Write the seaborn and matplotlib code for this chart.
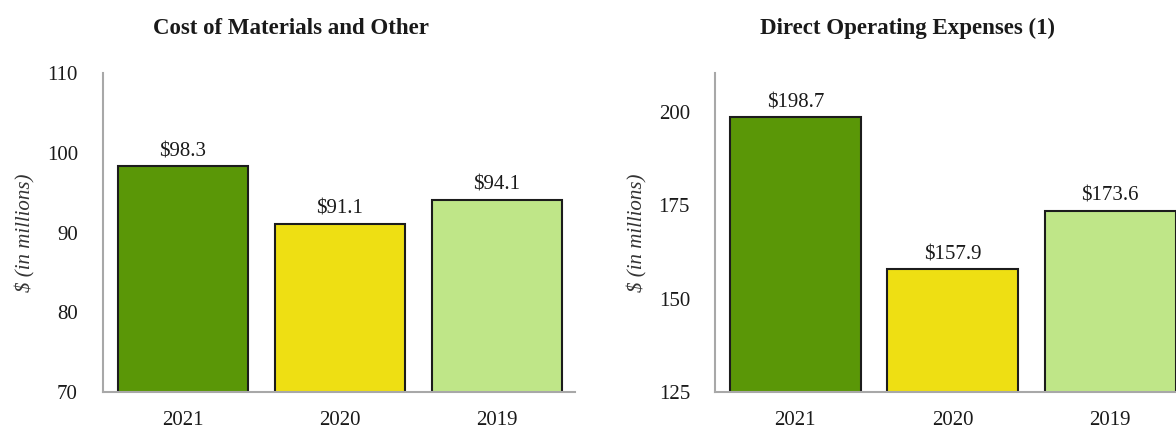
import pandas as pd
import seaborn as sns
import matplotlib.pyplot as plt

years = ['2021', '2020', '2019']
cost_materials = [98.3, 91.1, 94.1]
direct_opex = [198.7, 157.9, 173.6]
bar_colors = ['#5a9707', '#eedf13', '#bfe688']

sns.set_style('white')
plt.rcParams['font.family'] = ['Liberation Serif', 'DejaVu Serif']

fig = plt.figure(figsize=(11.76, 4.29), dpi=100)
ax1 = fig.add_axes([103/1176, 37/429, 472/1176, 319/429])
ax2 = fig.add_axes([715/1176, 37/429, 474/1176, 319/429])

def draw_panel(ax, values, title, ylim, ticks, title_x):
    df = pd.DataFrame({'year': years, 'value': values})
    sns.barplot(data=df, x='year', y='value', hue='year', order=years,
                hue_order=years, palette=bar_colors, legend=False,
                saturation=1, width=0.83, edgecolor='#1c1c1c',
                linewidth=1.5, ax=ax, dodge=False)
    ax.set_ylim(*ylim)
    ax.set_xlim(-0.51, 2.5)
    ax.set_yticks(ticks)
    ax.set_xlabel('')
    ax.set_ylabel('$ (in millions)', fontsize=15, fontstyle='italic',
                  color='#333333', labelpad=8)
    ax.tick_params(axis='both', length=0, labelsize=15, colors='#1a1a1a')
    ax.tick_params(axis='y', pad=18)
    ax.tick_params(axis='x', pad=14)
    for s in ['top', 'right']:
        ax.spines[s].set_visible(False)
    for s in ['left', 'bottom']:
        ax.spines[s].set_color('#a8a8a8')
        ax.spines[s].set_linewidth(1.5)
    for i, v in enumerate(values):
        ax.annotate(f'${v:.1f}', (i, v), xytext=(0, 3.5),
                    textcoords='offset points', ha='center', va='bottom',
                    fontsize=15, color='#1a1a1a')
    fig.text(title_x, 1 - 28/429, title, ha='center', va='center',
             fontsize=16.5, fontweight='bold', color='#1a1a1a')

draw_panel(ax1, cost_materials, 'Cost of Materials and Other',
           (70, 110), [70, 80, 90, 100, 110], 291/1176)
draw_panel(ax2, direct_opex, 'Direct Operating Expenses (1)',
           (125, 210.5), [125, 150, 175, 200], 908/1176)

fig.savefig('out.png', dpi=100)
